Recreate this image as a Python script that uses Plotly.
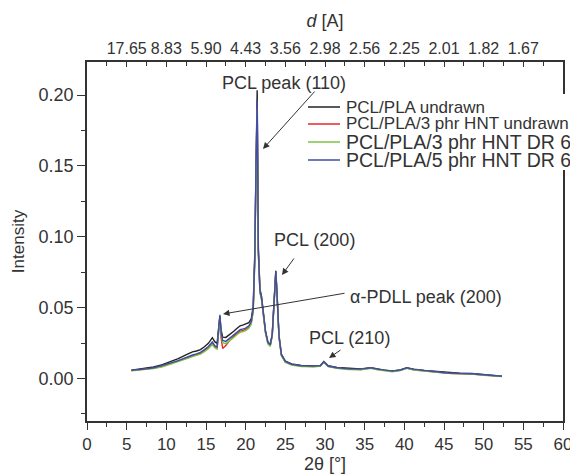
import plotly.graph_objects as go

# ---------------- data ----------------
two_theta = [5.6, 6.5, 7.5, 8.4, 9.5, 10.5, 11.5, 12.6, 13.3, 13.8, 14.3, 14.8, 15.3, 15.8,
             16.1, 16.4, 16.6, 16.75, 16.9, 17.1, 17.5, 18.0, 18.5, 19.0, 19.3, 19.7, 20.0,
             20.4, 20.7, 20.95, 21.15, 21.3, 21.45, 21.6, 21.8, 22.0, 22.2, 22.5, 22.8, 23.1,
             23.35, 23.55, 23.7, 23.8, 23.95, 24.2, 24.5, 25.0, 25.8, 27.0, 28.5, 29.4, 29.85,
             30.4, 31.5, 33.0, 34.5, 35.8, 36.6, 37.5, 38.5, 39.5, 40.3, 41.2, 42.5, 44.0,
             45.5, 47.0, 48.5, 50.0, 51.2, 52.3]

pcl_pla_undrawn = [0.0058, 0.0064, 0.0071, 0.0081, 0.0098, 0.0120, 0.0140, 0.0170, 0.0188, 0.0194,
                   0.0204, 0.0224, 0.0248, 0.0288, 0.0260, 0.0248, 0.0360, 0.0440, 0.0345, 0.0292,
                   0.0290, 0.0310, 0.0334, 0.0358, 0.0372, 0.0378, 0.0384, 0.0394, 0.0420, 0.0510,
                   0.0880, 0.1540, 0.2035, 0.0920, 0.0630, 0.0580, 0.0485, 0.0335, 0.0258, 0.0240,
                   0.0312, 0.0522, 0.0725, 0.0760, 0.0605, 0.0305, 0.0172, 0.0123, 0.0103, 0.0092,
                   0.0089, 0.0091, 0.0120, 0.0090, 0.0078, 0.0070, 0.0067, 0.0077, 0.0067, 0.0059,
                   0.0053, 0.0061, 0.0076, 0.0065, 0.0057, 0.0049, 0.0040, 0.0037, 0.0035, 0.0027,
                   0.0021, 0.0017]

hnt3_undrawn = [0.0056, 0.0060, 0.0066, 0.0073, 0.0086, 0.0104, 0.0121, 0.0146, 0.0160, 0.0168,
                0.0178, 0.0197, 0.0218, 0.0248, 0.0225, 0.0214, 0.0350, 0.0430, 0.0290, 0.0212,
                0.0232, 0.0270, 0.0298, 0.0322, 0.0334, 0.0340, 0.0346, 0.0362, 0.0390, 0.0480,
                0.0840, 0.1460, 0.1920, 0.0890, 0.0612, 0.0562, 0.0472, 0.0325, 0.0250, 0.0232,
                0.0305, 0.0512, 0.0712, 0.0750, 0.0595, 0.0296, 0.0165, 0.0117, 0.0098, 0.0088,
                0.0085, 0.0088, 0.0116, 0.0086, 0.0074, 0.0066, 0.0064, 0.0074, 0.0064, 0.0056,
                0.0050, 0.0058, 0.0073, 0.0062, 0.0054, 0.0046, 0.0037, 0.0034, 0.0032, 0.0024,
                0.0019, 0.0015]

hnt3_dr6 = [0.0054, 0.0058, 0.0063, 0.0070, 0.0082, 0.0099, 0.0116, 0.0140, 0.0154, 0.0162,
            0.0172, 0.0190, 0.0211, 0.0240, 0.0218, 0.0208, 0.0340, 0.0420, 0.0315, 0.0252,
            0.0246, 0.0266, 0.0290, 0.0314, 0.0326, 0.0332, 0.0338, 0.0354, 0.0382, 0.0470,
            0.0830, 0.1440, 0.1900, 0.0880, 0.0604, 0.0555, 0.0465, 0.0318, 0.0244, 0.0226,
            0.0300, 0.0505, 0.0705, 0.0745, 0.0590, 0.0292, 0.0160, 0.0113, 0.0095, 0.0085,
            0.0082, 0.0086, 0.0114, 0.0084, 0.0072, 0.0064, 0.0062, 0.0072, 0.0062, 0.0054,
            0.0048, 0.0056, 0.0071, 0.0060, 0.0052, 0.0044, 0.0036, 0.0033, 0.0031, 0.0023,
            0.0018, 0.0014]

hnt5_dr6 = [0.0058, 0.0062, 0.0068, 0.0076, 0.0090, 0.0108, 0.0126, 0.0152, 0.0166, 0.0174,
            0.0184, 0.0204, 0.0226, 0.0258, 0.0232, 0.0222, 0.0370, 0.0450, 0.0330, 0.0268,
            0.0262, 0.0284, 0.0308, 0.0332, 0.0344, 0.0350, 0.0356, 0.0372, 0.0400, 0.0490,
            0.0860, 0.1500, 0.1960, 0.0900, 0.0620, 0.0570, 0.0480, 0.0330, 0.0255, 0.0238,
            0.0310, 0.0520, 0.0720, 0.0756, 0.0600, 0.0300, 0.0168, 0.0120, 0.0100, 0.0090,
            0.0087, 0.0090, 0.0118, 0.0088, 0.0076, 0.0068, 0.0066, 0.0076, 0.0066, 0.0058,
            0.0052, 0.0060, 0.0075, 0.0064, 0.0056, 0.0048, 0.0039, 0.0036, 0.0034, 0.0026,
            0.0020, 0.0016]

series_names = ["PCL/PLA undrawn", "PCL/PLA/3 phr HNT undrawn",
                "PCL/PLA/3 phr HNT DR 6", "PCL/PLA/5 phr HNT DR 6"]
series_values = [pcl_pla_undrawn, hnt3_undrawn, hnt3_dr6, hnt5_dr6]
series_colors = ["#222222", "#e8262d", "#7cc442", "#3d4fa6"]

bottom_ticks = [0, 5, 10, 15, 20, 25, 30, 35, 40, 45, 50, 55, 60]
top_tick_pos = [5, 10, 15, 20, 25, 30, 35, 40, 45, 50, 55]
top_tick_labels = ["17.65", "8.83", "5.90", "4.43", "3.56", "2.98", "2.56",
                   "2.25", "2.01", "1.82", "1.67"]
y_ticks = [0.00, 0.05, 0.10, 0.15, 0.20]

# ---------------- layout geometry ----------------
# The page body has an 8 px margin, so the figure is drawn 8 px in from the
# window corner; screen positions below are converted accordingly.
OFF = 8
SW, SH = 578, 475                       # browser window
W, H = SW - OFF, SH - OFF               # figure size
SL, SR, ST, SB = 87, 563, 62, 421       # plot-area edges in screen pixels
L, R, T, B = SL - OFF, SR - OFF, ST - OFF, SB - OFF
FONT = "Liberation Sans, Arial, sans-serif"
AX = "#333333"


def px(xs):
    return (xs - SL) / (SR - SL)


def py(ys):
    return (SB - ys) / (SB - ST)


fig = go.Figure()
for name, vals, col in zip(series_names, series_values, series_colors):
    fig.add_trace(go.Scatter(x=two_theta, y=vals, mode="lines", name=name,
                             line=dict(color=col, width=1.4), showlegend=False))

# invisible trace to anchor the top (d-spacing) axis
fig.add_trace(go.Scatter(x=two_theta, y=hnt5_dr6, xaxis="x2", mode="lines",
                         line=dict(width=0), opacity=0, showlegend=False, hoverinfo="skip"))

fig.update_layout(
    width=W, height=H,
    margin=dict(l=L, r=W - R, t=T, b=H - B, autoexpand=False),
    paper_bgcolor="white", plot_bgcolor="white",
    font=dict(family=FONT, size=17, color=AX),
    xaxis=dict(range=[0, 60], tickvals=bottom_ticks, tickangle=0, ticks="outside", ticklen=7,
               tickwidth=1.3, tickcolor=AX, showline=True, linecolor=AX, linewidth=1.5,
               showgrid=False, zeroline=False,
               minor=dict(dtick=2.5, tick0=0, ticks="outside", ticklen=4, tickwidth=1.2,
                          tickcolor=AX, showgrid=False),
               title=dict(text="2θ [°]", font=dict(size=18), standoff=4)),
    xaxis2=dict(range=[0, 60], overlaying="x", side="top", tickmode="array",
                tickvals=top_tick_pos, ticktext=top_tick_labels, tickangle=0,
                tickfont=dict(size=16), ticks="inside",
                ticklen=5, tickwidth=1.2, tickcolor=AX, showline=True, linecolor=AX,
                linewidth=1.5, showgrid=False, zeroline=False,
                minor=dict(dtick=2.5, tick0=0, ticks="inside", ticklen=4, tickwidth=1.2,
                           tickcolor=AX, showgrid=False),
                title=dict(text="<i>d</i> [A]", font=dict(size=18), standoff=8)),
    yaxis=dict(range=[-0.03, 0.2234], tickvals=y_ticks, tickformat=".2f",
               ticks="outside", ticklen=8, tickwidth=1.3, tickcolor=AX,
               showline=True, mirror=True, linecolor=AX, linewidth=1.5,
               showgrid=False, zeroline=False, tickfont=dict(size=18),
               minor=dict(dtick=0.025, tick0=0, ticks="outside", ticklen=4,
                          tickwidth=1.2, tickcolor=AX, showgrid=False),
               title=dict(text="Intensity", font=dict(size=17), standoff=10)),
)

# ---------------- peak annotations (screen pixel positions) ----------------
ANN_FONT = dict(family=FONT, size=18, color=AX)
labels = [
    ("PCL peak (110)", 284, 83),
    ("PCL (200)", 314, 240),
    ("α-PDLL peak (200)", 426, 297),
    ("PCL (210)", 349, 338),
]
for text, xs, ys in labels:
    fig.add_annotation(xref="paper", yref="paper", x=px(xs), y=py(ys), text=text,
                       showarrow=False, font=ANN_FONT, xanchor="center", yanchor="middle")

arrows = [  # (tail, head) in screen pixels
    ((316, 90), (263, 149)),
    ((295, 257), (282, 275)),
    ((346, 293), (223, 314)),
    ((342, 349), (329, 358)),
]
for (tx, ty), (hx, hy) in arrows:
    fig.add_annotation(xref="paper", yref="paper", axref="pixel", ayref="pixel",
                       x=px(hx), y=py(hy), ax=tx - hx, ay=ty - hy, text="",
                       showarrow=True, arrowhead=2, arrowsize=1.3, arrowwidth=1,
                       arrowcolor=AX)

# ---------------- legend (drawn manually to match its compact spacing) ----------------
fig.add_shape(type="rect", xref="paper", yref="paper", x0=px(302), x1=px(600),
              y0=py(170), y1=py(94), fillcolor="white", line=dict(width=0), layer="above")
legend_rows = [107, 124, 142, 160]
legend_sizes = [17, 17, 19.5, 19.5]
for name, col, ys, fs in zip(series_names, series_colors, legend_rows, legend_sizes):
    fig.add_shape(type="line", xref="paper", yref="paper", x0=px(308), x1=px(340),
                  y0=py(ys), y1=py(ys), line=dict(color=col, width=1.5), layer="above")
    fig.add_annotation(xref="paper", yref="paper", x=px(344), y=py(ys), text=name,
                       showarrow=False, xanchor="left", yanchor="middle",
                       font=dict(family=FONT, size=fs, color=AX))

fig.write_html("out.html")
